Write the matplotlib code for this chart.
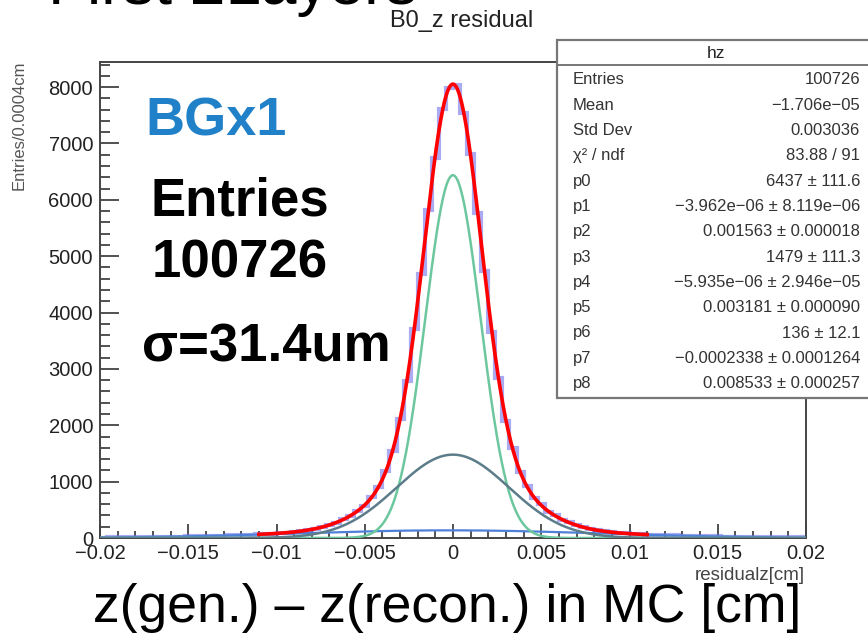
import numpy as np
import matplotlib
matplotlib.use("Agg")
import matplotlib.pyplot as plt
from matplotlib.patches import Rectangle
from matplotlib.lines import Line2D
from matplotlib.ticker import MultipleLocator, FixedLocator, FixedFormatter

plt.rcParams["font.family"] = ["Liberation Sans", "DejaVu Sans"]

W, H = 868, 635

# histogram contents, 100 bins of 0.0004 cm from -0.02 to 0.02
counts_left = [8, 12, 10, 14, 13, 17, 15, 19, 21, 20, 26, 25, 31, 30, 36, 35, 41, 44, 45, 52,
               51, 60, 66, 67, 78, 81, 96, 101, 124, 136, 168, 189, 233, 268, 335, 389, 486, 571, 731, 905,
               1196, 1548, 2120, 2780, 3712, 4685, 5820, 6750, 7610, 7990]
counts_right = [8045, 7540, 6810, 5760, 4740, 3650, 2830, 2075, 1590, 1170, 925, 708, 596, 470, 402, 321, 279, 224, 197, 158,
                143, 116, 108, 90, 87, 73, 71, 62, 61, 50, 48, 47, 40, 42, 35, 33, 30, 31, 25, 24,
                23, 19, 18, 16, 16, 13, 12, 12, 9, 10]
counts = counts_left + counts_right
bin_lo, bin_hi, n_bins = -0.02, 0.02, 100

# fit parameters shown in the stats box (triple gaussian)
gaus1 = [6437, -3.962e-06, 0.001563]
gaus2 = [1479, -5.935e-06, 0.003181]
gaus3 = [136, -0.0002338, 0.008533]
fit_range = (-0.011, 0.011)

stat_labels = ["Entries", "Mean", "Std Dev", "χ² / ndf", "p0", "p1", "p2", "p3", "p4", "p5", "p6", "p7", "p8"]
stat_values = ["100726", "−1.706e−05", "0.003036", "83.88 / 91",
               "6437 ± 111.6", "−3.962e−06 ± 8.119e−06", "0.001563 ± 0.000018",
               "1479 ± 111.3", "−5.935e−06 ± 2.946e−05", "0.003181 ± 0.000090",
               "136 ± 12.1", "−0.0002338 ± 0.0001264", "0.008533 ± 0.000257"]

xticks = [-0.02, -0.015, -0.01, -0.005, 0, 0.005, 0.01, 0.015, 0.02]
xticklabels = ["−0.02", "−0.015", "−0.01", "−0.005", "0", "0.005", "0.01", "0.015", "0.02"]
yticks = [0, 1000, 2000, 3000, 4000, 5000, 6000, 7000, 8000]


def gaus(x, p):
    return p[0] * np.exp(-0.5 * ((x - p[1]) / p[2]) ** 2)


def fx(px):
    return px / W


def fy(py):
    return 1 - py / H


fig = plt.figure(figsize=(W / 100, H / 100), dpi=100, facecolor="white")
ax = fig.add_axes([fx(100), fy(538), (806 - 100) / W, (538 - 62) / H])

edges = np.linspace(bin_lo, bin_hi, n_bins + 1)
ax.stairs(counts, edges, color="#7474ee", lw=3, alpha=0.6, zorder=2)

xs = np.linspace(bin_lo, bin_hi, 1200)
ax.plot(xs, gaus(xs, gaus3), color="#4d80d8", lw=1.6, zorder=3)
ax.plot(xs, gaus(xs, gaus1), color="#6cc79e", lw=1.8, zorder=3)
ax.plot(xs, gaus(xs, gaus2), color="#5c7c8a", lw=1.8, zorder=3)
xf = np.linspace(fit_range[0], fit_range[1], 800)
ax.plot(xf, gaus(xf, gaus1) + gaus(xf, gaus2) + gaus(xf, gaus3), color="#ff0000", lw=2.6, zorder=4)

ax.set_xlim(bin_lo, bin_hi)
ax.set_ylim(0, 8445)
ax.xaxis.set_major_locator(FixedLocator(xticks))
ax.xaxis.set_major_formatter(FixedFormatter(xticklabels))
ax.xaxis.set_minor_locator(MultipleLocator(0.001))
ax.yaxis.set_major_locator(FixedLocator(yticks))
ax.yaxis.set_minor_locator(MultipleLocator(200))
ax.tick_params(axis="both", which="both", direction="in", colors="#333333", labelcolor="#222222",
               labelsize=14.5, width=1.2)
ax.tick_params(axis="y", which="major", length=14, pad=5)
ax.tick_params(axis="y", which="minor", length=7)
ax.tick_params(axis="x", which="major", length=10, pad=4)
ax.tick_params(axis="x", which="minor", length=5)
for s in ax.spines.values():
    s.set_color("#444444")
    s.set_linewidth(1.4)

# ROOT-like annotations
fig.text(fx(462), fy(21), "B0_z residual", fontsize=17, color="#222222", ha="center", va="center")
fig.text(fx(19), fy(60), "Entries/0.0004cm", fontsize=12, color="#555555", rotation=90,
         ha="center", va="top")
fig.text(fx(805), fy(575), "residualz[cm]", fontsize=13.5, color="#444444", ha="right", va="center")

fig.text(fx(145), fy(135), "BGx1", fontsize=39, fontweight="bold", color="#2080c8", ha="left", va="baseline")
fig.text(fx(150), fy(216), "Entries", fontsize=38, fontweight="bold", color="black", ha="left", va="baseline")
fig.text(fx(152), fy(277), "100726", fontsize=38, fontweight="bold", color="black", ha="left", va="baseline")
fig.text(fx(142), fy(362), "σ=31.4um", fontsize=38, fontweight="bold", color="black", ha="left", va="baseline")

# slide heading, mostly cut off by the top edge
fig.text(fx(48), fy(4), "First 2Layers", fontsize=46, color="black", ha="left", va="baseline")
fig.text(fx(447), fy(622), "z(gen.) – z(recon.) in MC [cm]", fontsize=38.5, color="black",
         ha="center", va="baseline")

# stats box
box = Rectangle((fx(557), fy(398)), (872 - 557) / W, (398 - 40) / H, transform=fig.transFigure,
                facecolor="white", edgecolor="#777777", lw=1.6, zorder=5)
fig.add_artist(box)
fig.add_artist(Line2D([fx(557), fx(872)], [fy(65), fy(65)], transform=fig.transFigure,
                      color="#777777", lw=1.4, zorder=6))
fig.text(fx(716), fy(53), "hz", fontsize=12.5, color="#222222", ha="center", va="center", zorder=7)
for i, (lab, val) in enumerate(zip(stat_labels, stat_values)):
    y = 80 + 25.3 * i
    fig.text(fx(573), fy(y), lab, fontsize=12, color="#333333", ha="left", va="center", zorder=7)
    fig.text(fx(860), fy(y), val, fontsize=12, color="#333333", ha="right", va="center", zorder=7)

fig.savefig("out.png", dpi=100, facecolor="white")
